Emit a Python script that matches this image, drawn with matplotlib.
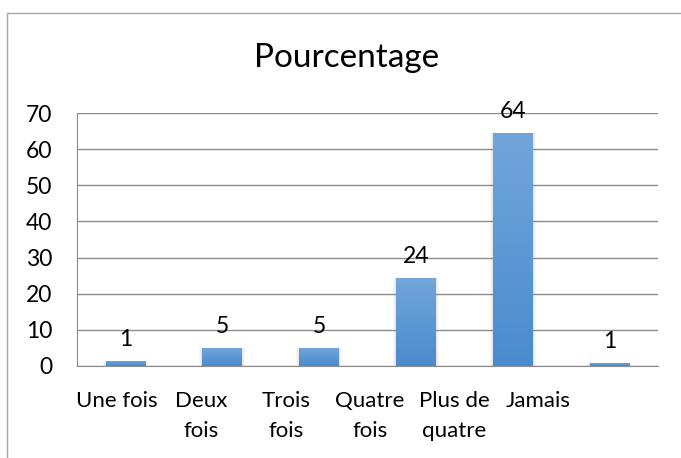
import numpy as np
import matplotlib
matplotlib.use("Agg")
import matplotlib.pyplot as plt
from matplotlib.patches import Rectangle

plt.rcParams['font.family'] = ['Lato', 'DejaVu Sans']

# data
categories = ["Une fois", "Deux\nfois", "Trois\nfois", "Quatre\nfois", "Plus de\nquatre", "Jamais"]
heights = [1.4, 5.0, 5.0, 24.4, 64.4, 0.9]
labels = ["1", "5", "5", "24", "64", "1"]
yticks = [0, 10, 20, 30, 40, 50, 60, 70]

fig = plt.figure(figsize=(6.81, 4.58), dpi=100)
ax = fig.add_axes([77 / 681, 1 - 366 / 458, 581 / 681, 253 / 458])

# outer chart border (Excel style, cropped on right and bottom)
fig.patches.append(Rectangle((6.5 / 681, -0.1), 1.2, 1 - 13.5 / 458 + 0.1,
                             transform=fig.transFigure, fill=False,
                             edgecolor='#a6a6a6', linewidth=1.0))

x = np.arange(len(categories))
width = 0.41

# soft shadow around the bars
for extra, a in [(0.06, 0.05), (0.04, 0.06), (0.02, 0.08)]:
    ax.bar(x, heights, width=width + extra, color='gray', alpha=a, zorder=2)

bars = ax.bar(x, heights, width=width, color='#5393d2', zorder=3)

# vertical gradient on each bar
grad = np.linspace(0, 1, 256).reshape(-1, 1)
cmap = matplotlib.colors.LinearSegmentedColormap.from_list('b', ['#4a8bcd', '#72a6db'])
for b in bars:
    x0, y0 = b.get_x(), b.get_y()
    im = ax.imshow(grad, extent=[x0, x0 + b.get_width(), y0, y0 + b.get_height()],
                   aspect='auto', origin='lower', cmap=cmap, zorder=4)
    im.set_clip_path(b)

for xi, h, lab in zip(x, heights, labels):
    ax.annotate(lab, (xi, h), xytext=(0, 8), textcoords='offset points',
                ha='center', va='bottom', fontsize=16.5, zorder=5)

ax.set_xlim(-0.5, len(categories) - 0.5)
ax.set_ylim(0, 70)
ax.set_yticks(yticks)
ax.yaxis.grid(True, color='#8c8c8c', linewidth=1.0, zorder=0)
ax.set_axisbelow(True)

# category labels sit a bit left of the bars in the original
label_pos = x * 0.871 - 0.087
ax.set_xticks(label_pos)
ax.set_xticklabels(categories, fontsize=16, linespacing=1.6)
ax.tick_params(axis='x', length=0, pad=18)
ax.tick_params(axis='y', length=0, pad=18, labelsize=16.5)

for s in ['top', 'right']:
    ax.spines[s].set_visible(False)
ax.spines['left'].set_color('#8c8c8c')
ax.spines['bottom'].set_color('#8c8c8c')

fig.text(347 / 681, 1 - 58 / 458, "Pourcentage", ha='center', va='center', fontsize=24)

fig.savefig("out.png", dpi=100)
